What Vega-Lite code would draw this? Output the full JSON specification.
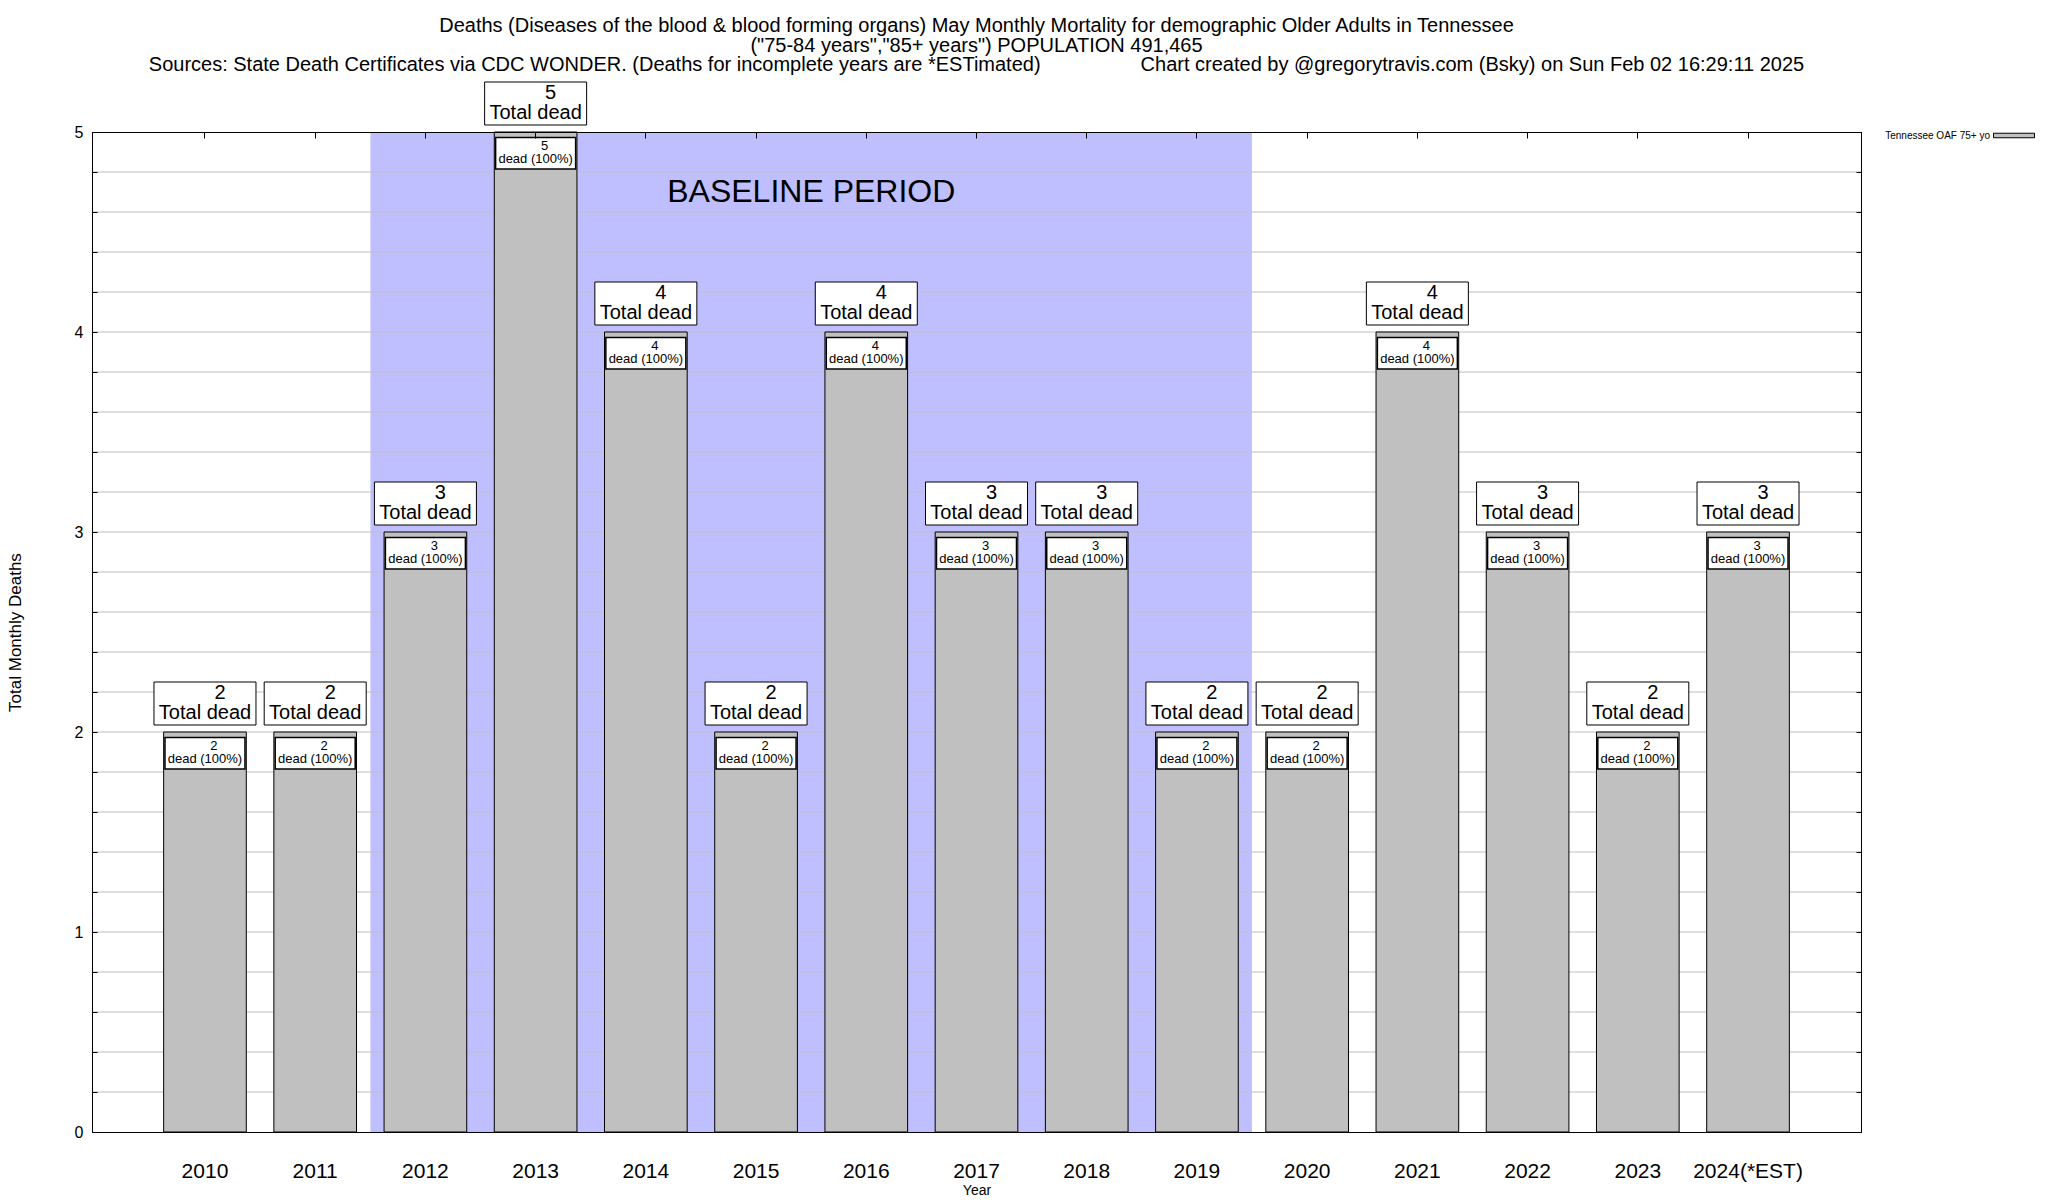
{
  "$schema": "https://vega.github.io/schema/vega-lite/v6.json",
  "autosize": {"type": "none"},
  "width": 1769,
  "height": 1000,
  "padding": {"left": 92, "top": 132, "right": 187, "bottom": 68},
  "background": "white",
  "title": {
    "text": [
      "Deaths (Diseases of the blood & blood forming organs) May Monthly Mortality for demographic Older Adults in Tennessee",
      "(\"75-84 years\",\"85+ years\") POPULATION 491,465",
      "Sources: State Death Certificates via CDC WONDER. (Deaths for incomplete years are *ESTimated)\u00a0\u00a0\u00a0\u00a0\u00a0\u00a0\u00a0\u00a0\u00a0\u00a0\u00a0\u00a0\u00a0\u00a0\u00a0\u00a0\u00a0\u00a0Chart created by @gregorytravis.com (Bsky) on Sun Feb 02 16:29:11 2025"
    ],
    "fontSize": 20,
    "fontWeight": "normal",
    "lineHeight": 19.6,
    "anchor": "middle",
    "frame": "group",
    "offset": 6,
    "color": "black"
  },
  "datasets": {
    "deaths": [
      {"year": "2010", "deaths": 2, "detail": "dead (100%)"},
      {"year": "2011", "deaths": 2, "detail": "dead (100%)"},
      {"year": "2012", "deaths": 3, "detail": "dead (100%)"},
      {"year": "2013", "deaths": 5, "detail": "dead (100%)"},
      {"year": "2014", "deaths": 4, "detail": "dead (100%)"},
      {"year": "2015", "deaths": 2, "detail": "dead (100%)"},
      {"year": "2016", "deaths": 4, "detail": "dead (100%)"},
      {"year": "2017", "deaths": 3, "detail": "dead (100%)"},
      {"year": "2018", "deaths": 3, "detail": "dead (100%)"},
      {"year": "2019", "deaths": 2, "detail": "dead (100%)"},
      {"year": "2020", "deaths": 2, "detail": "dead (100%)"},
      {"year": "2021", "deaths": 4, "detail": "dead (100%)"},
      {"year": "2022", "deaths": 3, "detail": "dead (100%)"},
      {"year": "2023", "deaths": 2, "detail": "dead (100%)"},
      {"year": "2024(*EST)", "deaths": 3, "detail": "dead (100%)"}
    ],
    "baseline": [
      {"start": "2012", "end": "2019", "label": "BASELINE PERIOD", "label_at": "2016"}
    ],
    "grid": [
      {"v": 0.2}, {"v": 0.4}, {"v": 0.6}, {"v": 0.8}, {"v": 1},
      {"v": 1.2}, {"v": 1.4}, {"v": 1.6}, {"v": 1.8}, {"v": 2},
      {"v": 2.2}, {"v": 2.4}, {"v": 2.6}, {"v": 2.8}, {"v": 3},
      {"v": 3.2}, {"v": 3.4}, {"v": 3.6}, {"v": 3.8}, {"v": 4},
      {"v": 4.2}, {"v": 4.4}, {"v": 4.6}, {"v": 4.8}
    ]
  },
  "layer": [
    {
      "data": {"name": "baseline"},
      "mark": {"type": "rect", "color": "#bfbfff", "xOffset": -55, "x2Offset": 55},
      "encoding": {
        "x": {"field": "start", "type": "nominal", "bandPosition": 0.5, "axis": null,
              "scale": {"domain": ["2010","2011","2012","2013","2014","2015","2016","2017","2018","2019","2020","2021","2022","2023","2024(*EST)"], "paddingInner": 0.25, "paddingOuter": 0.65}},
        "x2": {"field": "end", "bandPosition": 0.5}
      }
    },
    {
      "data": {"name": "grid"},
      "mark": {"type": "rule", "color": "#c0c0c0", "strokeWidth": 1},
      "encoding": {
        "y": {"field": "v", "type": "quantitative", "axis": null, "scale": {"domain": [0, 5], "nice": false}}
      }
    },
    {
      "data": {"name": "deaths"},
      "mark": {"type": "bar", "stroke": "black", "strokeWidth": 1},
      "encoding": {
        "x": {"field": "year", "type": "nominal", "sort": null,
              "axis": {"orient": "bottom", "title": "Year", "titleFontSize": 14, "titleFontWeight": "normal", "titlePadding": 2,
                       "labelFontSize": 21, "labelPadding": 28, "ticks": false, "labelAngle": 0, "domainColor": "black",
                       "labelColor": "black", "titleColor": "black", "zindex": 1}},
        "y": {"field": "deaths", "type": "quantitative",
              "axis": {"orient": "left", "title": "Total Monthly Deaths", "titleFontSize": 17, "titleFontWeight": "normal",
                       "titleColor": "black", "titlePadding": 50,
                       "values": [0,0.2,0.4,0.6,0.8,1,1.2,1.4,1.6,1.8,2,2.2,2.4,2.6,2.8,3,3.2,3.4,3.6,3.8,4,4.2,4.4,4.6,4.8,5],
                       "labelExpr": "datum.value % 1 === 0 ? format(datum.value, 'd') : ''",
                       "labelOverlap": false, "labelFlush": false, "labelBound": false,
                       "labelFontSize": 16, "labelColor": "black", "labelPadding": 14,
                       "tickSize": -5, "tickColor": "black", "domainColor": "black", "grid": false, "zindex": 1}},
        "color": {"datum": "Tennessee OAF 75+ yo", "type": "nominal",
                  "scale": {"range": ["#c0c0c0"]},
                  "legend": {"orient": "none", "legendX": 1901, "legendY": -17.5, "title": null,
                             "labelAlign": "right", "labelOffset": -45, "labelFontSize": 10, "labelColor": "black",
                             "symbolType": "M-1,-0.11L1,-0.11L1,0.11L-1,0.11Z", "symbolSize": 1681,
                             "symbolFillColor": "#c0c0c0",
                             "symbolStrokeColor": "black", "symbolStrokeWidth": 1, "symbolOpacity": 1,
                             "encode": {"symbols": {"update": {"fill": {"value": "#c0c0c0"}, "stroke": {"value": "black"}, "fillOpacity": {"value": 1}, "opacity": {"value": 1}}}}}}
      }
    },
    {
      "data": {"name": "deaths"},
      "mark": {"type": "bar", "fill": "white", "stroke": "black", "strokeWidth": 1, "width": 102, "yOffset": -7, "y2Offset": -50},
      "encoding": {
        "x": {"field": "year", "type": "nominal", "sort": null, "axis": null},
        "y": {"field": "deaths", "type": "quantitative", "axis": null},
        "y2": {"field": "deaths"}
      }
    },
    {
      "data": {"name": "deaths"},
      "mark": {"type": "text", "fontSize": 20, "baseline": "middle", "align": "center", "dx": 15, "dy": -38.7, "color": "black"},
      "encoding": {
        "x": {"field": "year", "type": "nominal", "sort": null, "axis": null},
        "y": {"field": "deaths", "type": "quantitative", "axis": null},
        "text": {"field": "deaths"}
      }
    },
    {
      "data": {"name": "deaths"},
      "mark": {"type": "text", "text": "Total dead", "fontSize": 20, "baseline": "middle", "align": "center", "dy": -18.7, "color": "black"},
      "encoding": {
        "x": {"field": "year", "type": "nominal", "sort": null, "axis": null},
        "y": {"field": "deaths", "type": "quantitative", "axis": null}
      }
    },
    {
      "data": {"name": "deaths"},
      "mark": {"type": "bar", "fill": "white", "stroke": "black", "strokeWidth": 1.5, "width": 80, "yOffset": 5.5, "y2Offset": 37},
      "encoding": {
        "x": {"field": "year", "type": "nominal", "sort": null,
              "axis": {"orient": "top", "labels": false, "title": null, "tickSize": -6, "tickColor": "black", "domainColor": "black", "zindex": 1}},
        "y": {"field": "deaths", "type": "quantitative",
              "axis": {"orient": "right", "labels": false, "title": null, "tickSize": -5, "tickColor": "black", "domainColor": "black", "grid": false,
                       "values": [0,0.2,0.4,0.6,0.8,1,1.2,1.4,1.6,1.8,2,2.2,2.4,2.6,2.8,3,3.2,3.4,3.6,3.8,4,4.2,4.4,4.6,4.8,5], "zindex": 1}},
        "y2": {"field": "deaths"}
      }
    },
    {
      "data": {"name": "deaths"},
      "mark": {"type": "text", "fontSize": 13, "baseline": "middle", "align": "center", "dx": 9, "dy": 13.7, "color": "black"},
      "encoding": {
        "x": {"field": "year", "type": "nominal", "sort": null, "axis": null},
        "y": {"field": "deaths", "type": "quantitative", "axis": null},
        "text": {"field": "deaths"}
      }
    },
    {
      "data": {"name": "deaths"},
      "mark": {"type": "text", "fontSize": 13, "baseline": "middle", "align": "center", "dy": 27.3, "color": "black"},
      "encoding": {
        "x": {"field": "year", "type": "nominal", "sort": null, "axis": null},
        "y": {"field": "deaths", "type": "quantitative", "axis": null},
        "text": {"field": "detail"}
      }
    },
    {
      "data": {"name": "baseline"},
      "mark": {"type": "text", "fontSize": 32, "baseline": "middle", "align": "center", "dx": -55, "color": "black"},
      "encoding": {
        "x": {"field": "label_at", "type": "nominal", "bandPosition": 0.5, "axis": null},
        "y": {"datum": 4.7, "type": "quantitative", "axis": null},
        "text": {"field": "label"}
      }
    }
  ],
  "resolve": {"axis": {"x": "independent", "y": "independent"}},
  "config": {
    "font": "Liberation Sans",
    "view": {"stroke": "black"},
    "axis": {"labelFont": "Liberation Sans", "titleFont": "Liberation Sans"},
    "legend": {"labelFont": "Liberation Sans"},
    "title": {"font": "Liberation Sans"}
  }
}
